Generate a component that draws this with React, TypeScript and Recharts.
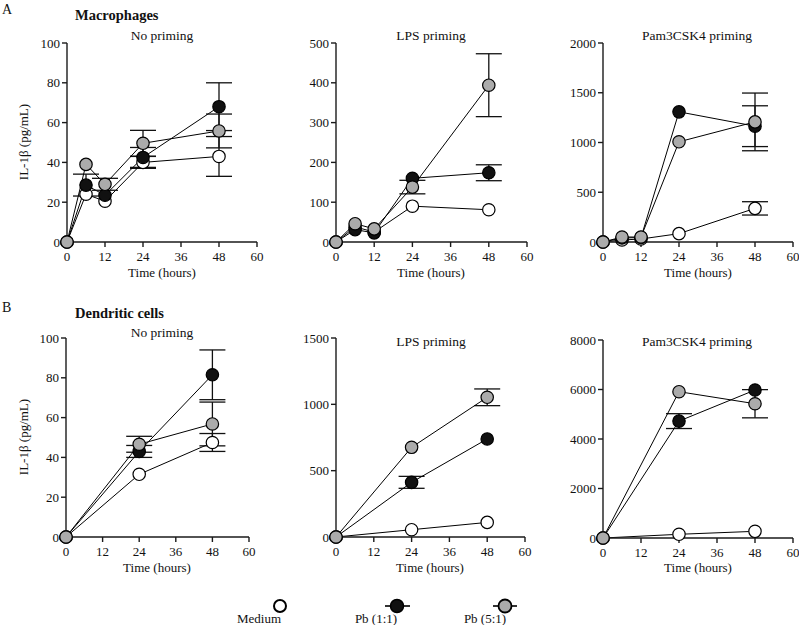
import { CartesianGrid, ErrorBar, Line, LineChart, XAxis, YAxis } from 'recharts';

const X_TICKS = [0, 12, 24, 36, 48, 60];
const MAC_TIMES = [0, 6, 12, 24, 48];
const DC_TIMES = [0, 24, 48];

// Macrophages — no priming
const macNoMedium = [0, 24, 20.5, 40, 43];
const macNoMediumErr = [0, 0, 0, 3, 10];
const macNoPb11 = [0, 28.6, 23.5, 42.5, 68];
const macNoPb11Err = [0, 5.5, 0, 5, 12];
const macNoPb51 = [0, 39, 29, 49.6, 55.8];
const macNoPb51Err = [0, 0, 3, 6.5, 8.5];

// Macrophages — LPS priming
const macLpsMedium = [0, 38, 25, 90, 81];
const macLpsMediumErr = [0, 0, 0, 0, 0];
const macLpsPb11 = [0, 31, 23, 160, 174];
const macLpsPb11Err = [0, 0, 0, 0, 20];
const macLpsPb51 = [0, 46, 33, 138, 394];
const macLpsPb51Err = [0, 0, 0, 17, 79];

// Macrophages — Pam3CSK4 priming
const macPamMedium = [0, 20, 30, 84, 338];
const macPamMediumErr = [0, 0, 0, 0, 67];
const macPamPb11 = [0, 40, 45, 1308, 1164];
const macPamPb11Err = [0, 0, 0, 0, 205];
const macPamPb51 = [0, 50, 50, 1007, 1207];
const macPamPb51Err = [0, 0, 0, 0, 290];

// Dendritic cells — no priming
const dcNoMedium = [0, 31.5, 47.5];
const dcNoMediumErr = [0, 0, 4.5];
const dcNoPb11 = [0, 43, 81.5];
const dcNoPb11Err = [0, 3, 12.5];
const dcNoPb51 = [0, 46.6, 56.8];
const dcNoPb51Err = [0, 4, 11];

// Dendritic cells — LPS priming
const dcLpsMedium = [0, 55, 110];
const dcLpsMediumErr = [0, 0, 0];
const dcLpsPb11 = [0, 412, 739];
const dcLpsPb11Err = [0, 45, 0];
const dcLpsPb51 = [0, 676, 1053];
const dcLpsPb51Err = [0, 0, 63];

// Dendritic cells — Pam3CSK4 priming
const dcPamMedium = [0, 150, 270];
const dcPamMediumErr = [0, 0, 0];
const dcPamPb11 = [0, 4723, 5978];
const dcPamPb11Err = [0, 300, 0];
const dcPamPb51 = [0, 5911, 5425];
const dcPamPb51Err = [0, 0, 570];

const FONT = '"Liberation Serif", "DejaVu Serif", serif';
const FILL_MED = '#ffffff';
const FILL_PB11 = '#111111';
const FILL_PB51 = '#ababab';

type PanelProps = {
  x0: number;
  x1: number;
  yTop: number;
  yBot: number;
  times: number[];
  med: number[];
  medErr: number[];
  pb11: number[];
  pb11Err: number[];
  pb51: number[];
  pb51Err: number[];
  yTicks: number[];
};

const YW = 62;
const XH = 32;
const PAD_T = 10;
const PAD_R = 14;

function Panel(p: PanelProps) {
  const rows = p.times.map((t, i) => ({
    t,
    med: p.med[i],
    medErr: p.medErr[i],
    pb11: p.pb11[i],
    pb11Err: p.pb11Err[i],
    pb51: p.pb51[i],
    pb51Err: p.pb51Err[i],
  }));
  const width = p.x1 - p.x0 + YW + PAD_R;
  const height = p.yBot - p.yTop + PAD_T + XH;
  const yMax = p.yTicks[p.yTicks.length - 1];
  const tick = { fill: '#111', fontSize: 13, fontFamily: FONT };
  const axisLine = { stroke: '#1a1a1a', strokeWidth: 1.4 };

  const series = [
    { key: 'med', err: 'medErr', fill: FILL_MED },
    { key: 'pb11', err: 'pb11Err', fill: FILL_PB11 },
    { key: 'pb51', err: 'pb51Err', fill: FILL_PB51 },
  ];

  return (
    <div style={{ position: 'absolute', left: p.x0 - YW, top: p.yTop - PAD_T }}>
      <LineChart
        width={width}
        height={height}
        data={rows}
        margin={{ top: PAD_T, right: PAD_R, left: 0, bottom: 0 }}
      >
        <CartesianGrid stroke="none" />
        <XAxis
          dataKey="t"
          type="number"
          domain={[0, 60]}
          ticks={X_TICKS}
          height={XH}
          tick={tick}
          tickSize={5}
          tickMargin={5}
          axisLine={axisLine}
          tickLine={axisLine}
        />
        <YAxis
          type="number"
          domain={[0, yMax]}
          ticks={p.yTicks}
          width={YW}
          tick={tick}
          tickSize={5}
          tickMargin={2}
          axisLine={axisLine}
          tickLine={axisLine}
        />
        {series.map((s) => (
          <Line
            key={s.key}
            dataKey={s.key}
            type="linear"
            stroke="#000"
            strokeWidth={1}
            dot={{ r: 6.2, fill: s.fill, stroke: '#000', strokeWidth: 1.2 }}
            activeDot={false}
            isAnimationActive={false}
          >
            <ErrorBar dataKey={s.err} direction="y" width={13} stroke="#111" strokeWidth={1.3} />
          </Line>
        ))}
      </LineChart>
    </div>
  );
}

function Txt({
  x,
  y,
  children,
  size = 13,
  bold = false,
  anchor = 'center',
  rotate = false,
}: {
  x: number;
  y: number;
  children: React.ReactNode;
  size?: number;
  bold?: boolean;
  anchor?: 'center' | 'left';
  rotate?: boolean;
}) {
  const tx = anchor === 'center' ? '-50%' : '0';
  return (
    <div
      style={{
        position: 'absolute',
        left: x,
        top: y,
        transform: `translate(${tx}, -50%)${rotate ? ' rotate(-90deg)' : ''}`,
        transformOrigin: anchor === 'center' ? 'center' : 'left center',
        fontSize: size,
        fontWeight: bold ? 700 : 400,
        whiteSpace: 'nowrap',
        lineHeight: 1,
        color: '#111',
      }}
    >
      {children}
    </div>
  );
}

const A_TICKS_NO = [0, 20, 40, 60, 80, 100];
const A_TICKS_LPS = [0, 100, 200, 300, 400, 500];
const A_TICKS_PAM = [0, 500, 1000, 1500, 2000];
const B_TICKS_NO = [0, 20, 40, 60, 80, 100];
const B_TICKS_LPS = [0, 500, 1000, 1500];
const B_TICKS_PAM = [0, 2000, 4000, 6000, 8000];

export default function App() {
  return (
    <div
      style={{
        position: 'absolute',
        left: 0,
        top: 0,
        width: 799,
        height: 625,
        background: '#fff',
        fontFamily: FONT,
        overflow: 'hidden',
      }}
    >
      <Txt x={2} y={10} size={14} anchor="left">A</Txt>
      <Txt x={75} y={15} size={14.5} bold anchor="left">Macrophages</Txt>
      <Txt x={162} y={36} size={13.5}>No priming</Txt>
      <Txt x={431} y={36} size={13.5}>LPS priming</Txt>
      <Txt x={697} y={36} size={13.5}>Pam3CSK4 priming</Txt>

      <Panel x0={67} x1={257} yTop={43} yBot={242} times={MAC_TIMES} yTicks={A_TICKS_NO}
        med={macNoMedium} medErr={macNoMediumErr} pb11={macNoPb11} pb11Err={macNoPb11Err}
        pb51={macNoPb51} pb51Err={macNoPb51Err} />
      <Panel x0={336} x1={527} yTop={43} yBot={242} times={MAC_TIMES} yTicks={A_TICKS_LPS}
        med={macLpsMedium} medErr={macLpsMediumErr} pb11={macLpsPb11} pb11Err={macLpsPb11Err}
        pb51={macLpsPb51} pb51Err={macLpsPb51Err} />
      <Panel x0={603} x1={793} yTop={43} yBot={242} times={MAC_TIMES} yTicks={A_TICKS_PAM}
        med={macPamMedium} medErr={macPamMediumErr} pb11={macPamPb11} pb11Err={macPamPb11Err}
        pb51={macPamPb51} pb51Err={macPamPb51Err} />

      <Txt x={23} y={142} rotate>IL-1β (pg/mL)</Txt>
      <Txt x={162} y={272}>Time (hours)</Txt>
      <Txt x={431} y={272}>Time (hours)</Txt>
      <Txt x={698} y={272}>Time (hours)</Txt>

      <Txt x={2} y={308} size={14} anchor="left">B</Txt>
      <Txt x={75} y={313} size={14.5} bold anchor="left">Dendritic cells</Txt>
      <Txt x={162} y={333} size={13.5}>No priming</Txt>
      <Txt x={431} y={342} size={13.5}>LPS priming</Txt>
      <Txt x={697} y={342} size={13.5}>Pam3CSK4 priming</Txt>

      <Panel x0={66} x1={249} yTop={338} yBot={537} times={DC_TIMES} yTicks={B_TICKS_NO}
        med={dcNoMedium} medErr={dcNoMediumErr} pb11={dcNoPb11} pb11Err={dcNoPb11Err}
        pb51={dcNoPb51} pb51Err={dcNoPb51Err} />
      <Panel x0={336} x1={525} yTop={338} yBot={537} times={DC_TIMES} yTicks={B_TICKS_LPS}
        med={dcLpsMedium} medErr={dcLpsMediumErr} pb11={dcLpsPb11} pb11Err={dcLpsPb11Err}
        pb51={dcLpsPb51} pb51Err={dcLpsPb51Err} />
      <Panel x0={603} x1={793} yTop={340} yBot={538} times={DC_TIMES} yTicks={B_TICKS_PAM}
        med={dcPamMedium} medErr={dcPamMediumErr} pb11={dcPamPb11} pb11Err={dcPamPb11Err}
        pb51={dcPamPb51} pb51Err={dcPamPb51Err} />

      <Txt x={23} y={437} rotate>IL-1β (pg/mL)</Txt>
      <Txt x={157} y={567}>Time (hours)</Txt>
      <Txt x={430} y={567}>Time (hours)</Txt>
      <Txt x={698} y={567}>Time (hours)</Txt>

      <svg style={{ position: 'absolute', left: 0, top: 590 }} width={799} height={35}>
        <circle cx={280} cy={16} r={6} fill={FILL_MED} stroke="#000" strokeWidth={2} />
        <line x1={385} x2={410} y1={16} y2={16} stroke="#000" strokeWidth={1.6} />
        <circle cx={397} cy={16} r={6.5} fill={FILL_PB11} stroke="#000" strokeWidth={1.5} />
        <line x1={493} x2={517} y1={16} y2={16} stroke="#000" strokeWidth={1.6} />
        <circle cx={505} cy={16} r={6.5} fill={FILL_PB51} stroke="#000" strokeWidth={1.8} />
      </svg>
      <Txt x={259} y={618}>Medium</Txt>
      <Txt x={376} y={618}>Pb (1:1)</Txt>
      <Txt x={485} y={618}>Pb (5:1)</Txt>
    </div>
  );
}
